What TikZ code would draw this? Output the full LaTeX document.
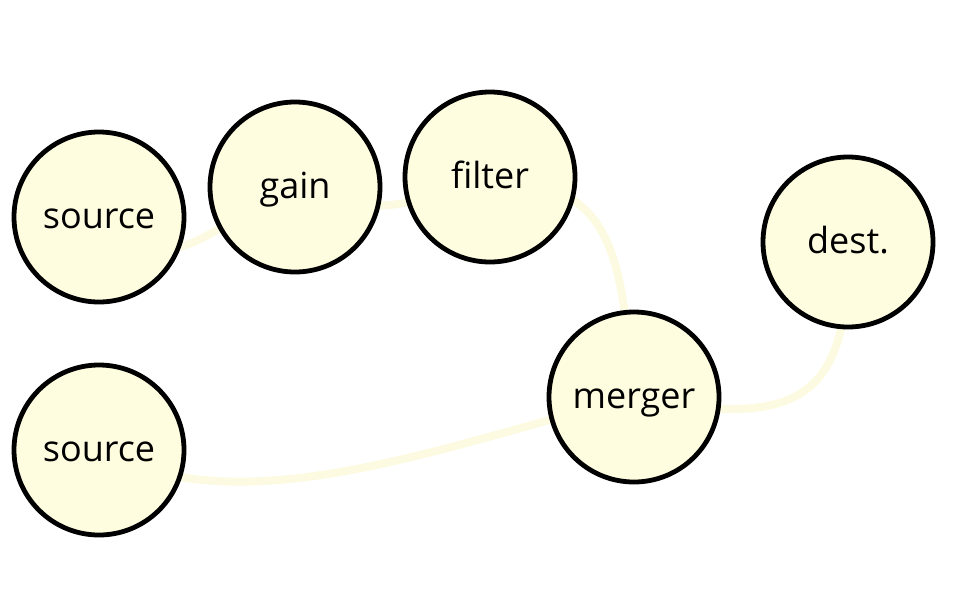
\documentclass[tikz,border=0pt]{standalone}
\usepackage{fontspec}
\setmainfont{Open Sans}
\usetikzlibrary{backgrounds}
\definecolor{nodefill}{RGB}{255,253,224}
\definecolor{wire}{RGB}{252,251,226}
\tikzset{
  unit/.style={circle, draw=black, line width=4.8pt, fill=nodefill, minimum size=170pt, inner sep=0pt, text height=24pt, text depth=2pt, font=\fontsize{36}{40}\selectfont},
  wireline/.style={draw=wire, line width=8pt, line cap=round}
}
\begin{document}
\begin{tikzpicture}[x=1pt,y=-1pt]
\useasboundingbox (0,0) rectangle (976,600);
\node[unit] (s1) at (99,217) {source};
\node[unit] (gain) at (295,187) {gain};
\node[unit] (filter) at (490,177) {filter};
\node[unit] (dest) at (848,242) {dest.};
\node[unit] (merger) at (634,397) {merger};
\node[unit] (s2) at (99,450) {source};
\begin{scope}[on background layer]
\draw[wireline] (s1.center) .. controls (175,285) and (200,230) .. (gain.center);
\draw[wireline] (gain.center) .. controls (360,220) and (420,205) .. (filter.center);
\draw[wireline] (filter.center) .. controls (615,185) and (620,250) .. (merger.center);
\draw[wireline] (merger.center) .. controls (800,430) and (850,400) .. (dest.center);
\draw[wireline] (s2.center) .. controls (240,525) and (430,450) .. (merger.center);
\end{scope}
\end{tikzpicture}
\end{document}
